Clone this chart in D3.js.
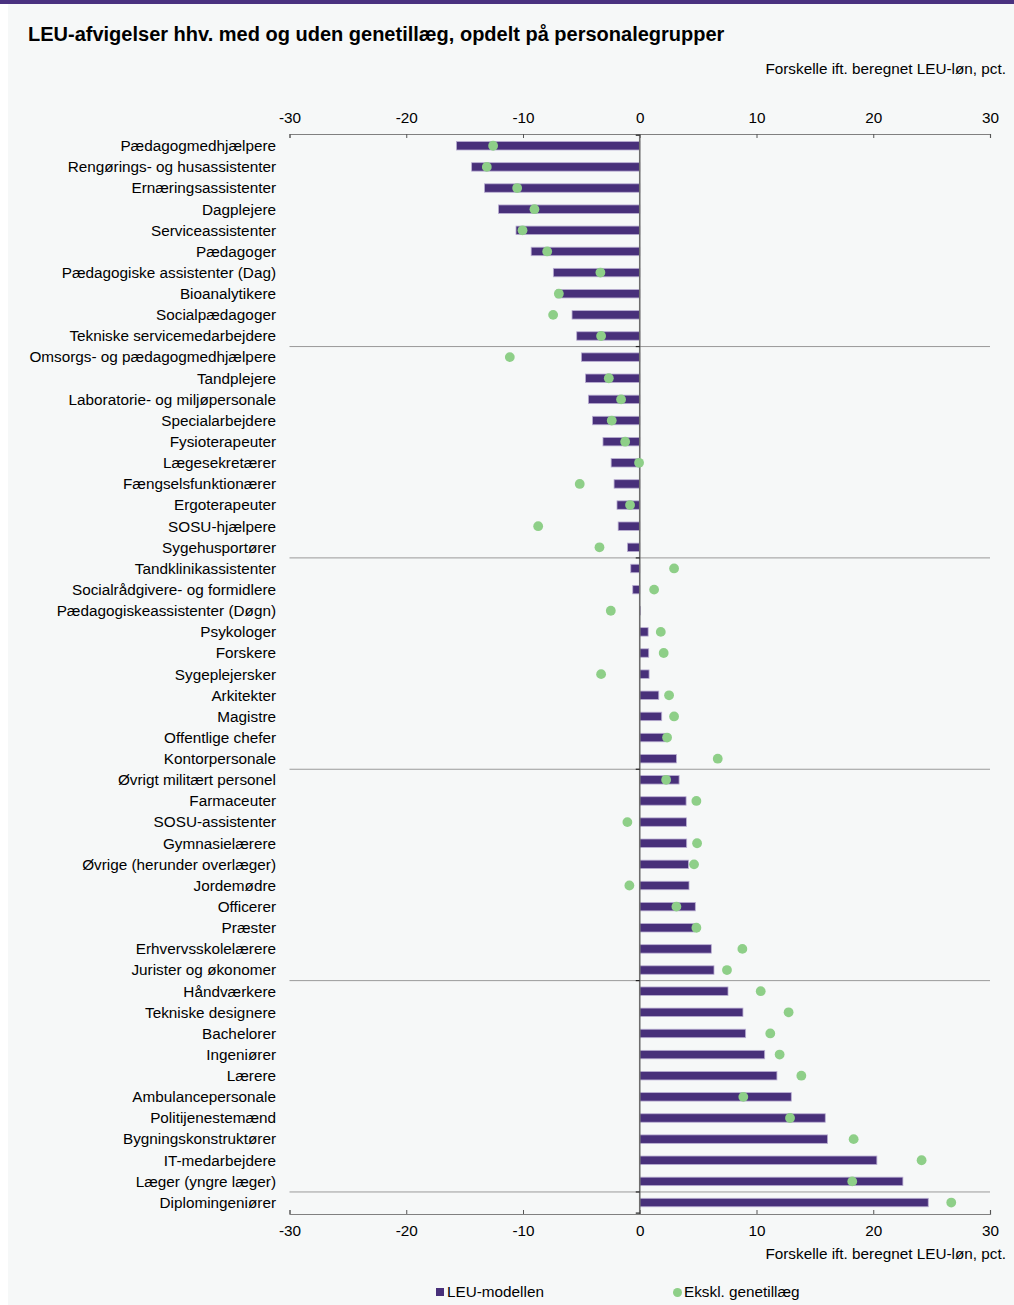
<!DOCTYPE html>
<html>
<head>
<meta charset="utf-8">
<script src="https://cdn.jsdelivr.net/npm/d3@7"></script>
<style>
  html, body { margin: 0; padding: 0; background: #ffffff; }
  svg { display: block; }
  text { font-family: "Liberation Sans", Arial, sans-serif; fill: #000; }
</style>
</head>
<body>
<svg id="chart" width="1014" height="1305"></svg>
<script>
// Personnel groups, top to bottom
const categories = [
  "Pædagogmedhjælpere", "Rengørings- og husassistenter", "Ernæringsassistenter", "Dagplejere",
  "Serviceassistenter", "Pædagoger", "Pædagogiske assistenter (Dag)", "Bioanalytikere",
  "Socialpædagoger", "Tekniske servicemedarbejdere", "Omsorgs- og pædagogmedhjælpere", "Tandplejere",
  "Laboratorie- og miljøpersonale", "Specialarbejdere", "Fysioterapeuter", "Lægesekretærer",
  "Fængselsfunktionærer", "Ergoterapeuter", "SOSU-hjælpere", "Sygehusportører",
  "Tandklinikassistenter", "Socialrådgivere- og formidlere", "Pædagogiskeassistenter (Døgn)", "Psykologer",
  "Forskere", "Sygeplejersker", "Arkitekter", "Magistre",
  "Offentlige chefer", "Kontorpersonale", "Øvrigt militært personel", "Farmaceuter",
  "SOSU-assistenter", "Gymnasielærere", "Øvrige (herunder overlæger)", "Jordemødre",
  "Officerer", "Præster", "Erhvervsskolelærere", "Jurister og økonomer",
  "Håndværkere", "Tekniske designere", "Bachelorer", "Ingeniører",
  "Lærere", "Ambulancepersonale", "Politijenestemænd", "Bygningskonstruktører",
  "IT-medarbejdere", "Læger (yngre læger)", "Diplomingeniører"
];

// LEU-modellen (bars), pct.
const leuModel = [
  -15.7, -14.4, -13.3, -12.1, -10.6, -9.3, -7.4, -7.1, -5.8, -5.4,
  -5.0, -4.65, -4.4, -4.05, -3.15, -2.45, -2.2, -1.95, -1.85, -1.05,
  -0.77, -0.6, 0.05, 0.72, 0.77, 0.8, 1.63, 1.88, 2.2, 3.14,
  3.37, 3.97, 4.0, 4.02, 4.17, 4.22, 4.76, 4.7, 6.13, 6.36,
  7.56, 8.84, 9.07, 10.7, 11.75, 12.98, 15.89, 16.09, 20.31, 22.54,
  24.71
];

// Ekskl. genetillæg (dots), pct.
const exclSupplement = [
  -12.56, -13.1, -10.5, -9.02, -10.04, -7.93, -3.37, -6.93, -7.42, -3.31,
  -11.13, -2.65, -1.6, -2.4, -1.25, -0.06, -5.14, -0.83, -8.7, -3.45,
  2.94, 1.23, -2.48, 1.8, 2.05, -3.31, 2.51, 2.94, 2.34, 6.68,
  2.26, 4.85, -1.06, 4.91, 4.65, -0.89, 3.14, 4.85, 8.79, 7.47,
  10.36, 12.75, 11.18, 11.98, 13.84, 8.87, 12.87, 18.32, 24.14, 18.2,
  26.68
];

const xTicks = [-30, -20, -10, 0, 10, 20, 30];
const axisTitle = "Forskelle ift. beregnet LEU-løn, pct.";
const chartTitle = "LEU-afvigelser hhv. med og uden genetillæg, opdelt på personalegrupper";
const legendLabels = ["LEU-modellen", "Ekskl. genetillæg"];

const data = categories.map((c, i) => ({ name: c, bar: leuModel[i], dot: exclSupplement[i] }));

const purple = "#48307a";
const green = "#8ecf88";
const fs = 15.3;

const svg = d3.select("#chart");

// panel background and top rule
svg.append("rect").attr("x", 8).attr("y", 0).attr("width", 1006).attr("height", 1305).attr("fill", "#f6f8f8");
svg.append("rect").attr("x", 0).attr("y", 0).attr("width", 1014).attr("height", 4).attr("fill", "#4a3280");

const plot = { left: 289.5, right: 990, top: 134, bottom: 1214 };
const bandTop = 135.2, bandBottom = 1213.1;

const x = d3.scaleLinear().domain([-30, 30]).range([plot.left, plot.right]);
const y = d3.scaleBand().domain(categories).range([bandTop, bandBottom]).paddingInner(0.6).paddingOuter(0.3);

// title
svg.append("text")
  .attr("x", 28).attr("y", 41)
  .attr("font-size", 20).attr("font-weight", "bold")
  .text(chartTitle);

// axis titles
svg.append("text").attr("x", 1006).attr("y", 74).attr("text-anchor", "end").attr("font-size", fs).text(axisTitle);
svg.append("text").attr("x", 1006).attr("y", 1259).attr("text-anchor", "end").attr("font-size", fs).text(axisTitle);

// group separators every ten categories
const groupBreaks = [10, 20, 30, 40, 50];
const step = (bandBottom - bandTop) / categories.length;
svg.append("g").selectAll("line").data(groupBreaks).join("line")
  .attr("x1", plot.left).attr("x2", plot.right)
  .attr("y1", d => bandTop + d * step).attr("y2", d => bandTop + d * step)
  .attr("stroke", "#9a9a9a").attr("stroke-width", 1);

// top and bottom value axes
const topAxis = d3.axisTop(x).tickValues(xTicks).tickSize(-4).tickPadding(11).tickFormat(d => String(d));
const bottomAxis = d3.axisBottom(x).tickValues(xTicks).tickSize(-4).tickPadding(11).tickFormat(d => String(d));

function styleAxis(g) {
  g.select(".domain").attr("stroke", "#808080").attr("stroke-width", 1.2);
  g.selectAll(".tick line").attr("stroke", "#555");
  g.selectAll(".tick text").attr("font-size", fs).attr("fill", "#000")
    .attr("font-family", "\"Liberation Sans\", Arial, sans-serif");
}
svg.append("g").attr("transform", `translate(0,${plot.top})`).call(topAxis).call(styleAxis);
svg.append("g").attr("transform", `translate(0,${plot.bottom})`).call(bottomAxis).call(styleAxis);

// bars
svg.append("g").selectAll("rect").data(data).join("rect")
  .attr("x", d => x(Math.min(0, d.bar)))
  .attr("y", d => y(d.name))
  .attr("width", d => Math.max(0.6, Math.abs(x(d.bar) - x(0))))
  .attr("height", y.bandwidth())
  .attr("fill", purple)
  .attr("stroke", "#b9aed2").attr("stroke-width", 0.8);

// zero line with category ticks
svg.append("line")
  .attr("x1", x(0)).attr("x2", x(0)).attr("y1", plot.top).attr("y2", plot.bottom)
  .attr("stroke", "#6e6e6e").attr("stroke-width", 1.6);
svg.append("g").selectAll("line").data([0, 10, 20, 30, 40, 50, 51]).join("line")
  .attr("x1", x(0) - 4).attr("x2", x(0))
  .attr("y1", d => bandTop + d * step).attr("y2", d => bandTop + d * step)
  .attr("stroke", "#222").attr("stroke-width", 1.2);

// dots
svg.append("g").selectAll("circle").data(data).join("circle")
  .attr("cx", d => x(d.dot))
  .attr("cy", d => y(d.name) + y.bandwidth() / 2)
  .attr("r", 4.9)
  .attr("fill", green);

// category labels
svg.append("g").selectAll("text").data(data).join("text")
  .attr("x", 276)
  .attr("y", d => y(d.name) + y.bandwidth() / 2)
  .attr("dy", "0.35em")
  .attr("text-anchor", "end")
  .attr("font-size", fs)
  .text(d => d.name);

// legend
const lg = svg.append("g");
lg.append("rect").attr("x", 436).attr("y", 1288).attr("width", 8).attr("height", 8).attr("fill", purple);
lg.append("text").attr("x", 447).attr("y", 1297).attr("font-size", fs).text(legendLabels[0]);
lg.append("circle").attr("cx", 677.5).attr("cy", 1292.5).attr("r", 4.5).attr("fill", green);
lg.append("text").attr("x", 684).attr("y", 1297).attr("font-size", fs).text(legendLabels[1]);
</script>
</body>
</html>
